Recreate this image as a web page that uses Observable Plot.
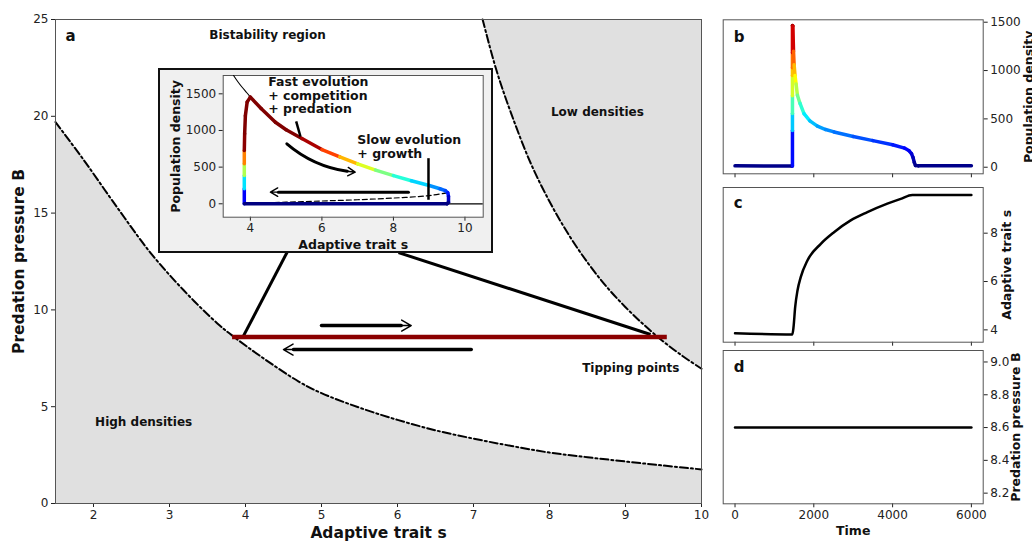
<!DOCTYPE html>
<html><head><meta charset="utf-8">
<script src="https://cdn.jsdelivr.net/npm/d3@7"></script>
<script src="https://cdn.jsdelivr.net/npm/@observablehq/plot@0.6"></script>
<style>
body{margin:0;background:#fff;}
#wrap{position:relative;width:1032px;height:541px;overflow:hidden;font-family:"DejaVu Sans",sans-serif;}
#box{position:absolute;left:158px;top:68px;width:335px;height:185px;box-sizing:border-box;border:2px solid #111;background:#f0f0f0;}
</style></head><body><div id="wrap"><div id="box"></div></div>
<script>
// ---------- data ----------
// panel a: boundaries of the bistability region
const lowerS = [1.5, 1.87, 2.31, 2.75, 3.19, 3.63, 3.85, 4.2, 4.7, 5.0, 5.5, 6.0, 6.5, 7.0, 7.5, 8.0, 8.5, 9.0, 9.5, 10.0];
const lowerB = [19.7, 17.75, 15.3, 12.95, 11.0, 9.3, 8.6, 7.6, 6.3, 5.7, 4.95, 4.32, 3.78, 3.35, 2.97, 2.63, 2.39, 2.17, 1.96, 1.76];
const upperS = [7.12, 7.3, 7.5, 7.75, 8.0, 8.25, 8.5, 8.75, 9.0, 9.25, 9.5, 9.75, 10.0];
const upperB = [25, 22.4, 20.1, 17.6, 15.6, 13.9, 12.45, 11.2, 10.14, 9.2, 8.36, 7.62, 6.96];
const tipB = 8.6;
const tipS = [3.83, 9.55];
const xTicksA = [2, 3, 4, 5, 6, 7, 8, 9, 10];
const yTicksA = [0, 5, 10, 15, 20, 25];
// connector lines from inset to tipping points (s, B)
const connS1 = [4.553, 6.013];
const connB1 = [13.02, 12.96];
const connS2 = [3.97, 9.33];
const connB2 = [8.63, 8.73];
// direction arrows in panel a
const arrowFrom = [5.0, 6.97];
const arrowTo = [6.18, 4.5];
const arrowB = [9.19, 7.95];
const notesA = ["Bistability region", "Low densities", "High densities", "Tipping points"];
const notesAS = [4.29, 8.63, 2.66, 9.07];
const notesAB = [24.17, 20.2, 4.18, 6.97];

// inset: trajectory in (s, N)
const insetS = [3.83, 3.83, 3.83, 3.83, 3.83, 3.84, 3.86, 3.91, 4.0, 4.3, 4.7, 5.0, 5.44, 6.0, 6.5, 7.0, 7.5, 8.0, 8.5, 9.0, 9.3, 9.45, 9.52, 9.54, 9.54, 9.5, 3.83];
const insetN = [0, 205, 386, 545, 727, 955, 1200, 1388, 1455, 1300, 1113, 1010, 890, 740, 640, 545, 460, 385, 315, 250, 205, 180, 150, 100, 20, 0, 0];
const eqS = [3.53, 3.65, 3.77, 3.9, 4.0];
const eqN = [1750, 1665, 1590, 1515, 1455];
const unstS = [4.0, 5.0, 6.0, 7.0, 8.0, 9.0, 9.49];
const unstN = [5, 22, 38, 55, 78, 112, 150];
const xTicksIn = [4, 6, 8, 10];
const yTicksIn = [0, 500, 1000, 1500];

// panels b, c, d: time series
const bT = [0, 1440, 1458, 1458, 1458, 1458, 1458, 1458, 1458, 1458, 1468, 1485, 1500, 1523, 1550, 1584, 1650, 1751, 1900, 2091, 2300, 2513, 3000, 3500, 4000, 4300, 4420, 4480, 4520, 4550, 4580, 4650, 6000];
const bN = [14, 12, 12, 380, 555, 740, 950, 1030, 1185, 1465, 1462, 1200, 1060, 948, 860, 745, 660, 555, 480, 425, 390, 365, 318, 275, 232, 198, 170, 140, 100, 50, 18, 14, 14];
const cT = [0, 1455, 1485, 1527, 1586, 1668, 1838, 2178, 2513, 2936, 3360, 3867, 4206, 4500, 6000];
const cS = [3.86, 3.81, 4.11, 4.94, 5.63, 6.18, 6.87, 7.56, 8.04, 8.53, 8.87, 9.22, 9.42, 9.58, 9.58];
const dT = [0, 6000];
const dB = [8.6, 8.6];
const timeTicks = [0, 2000, 4000, 6000];

// jet colormap
const jetStops = [0, 0.125, 0.375, 0.625, 0.875, 1];
const jetColors = ["#000080", "#0000ff", "#00ffff", "#ffff00", "#ff0000", "#800000"];

// ---------- helpers ----------
const FONT = "'DejaVu Sans', sans-serif";
const wrap = document.getElementById("wrap");
function place(el, left, top) {
  el.style.position = "absolute";
  el.style.left = left + "px";
  el.style.top = top + "px";
  el.style.background = "transparent";
  el.style.maxWidth = "none";
  wrap.appendChild(el);
}
function segs(xs, ys) {
  const out = [];
  for (let i = 0; i < xs.length - 1; i++) out.push({x1: xs[i], y1: ys[i], x2: xs[i + 1], y2: ys[i + 1], v: (ys[i] + ys[i + 1]) / 2});
  return out;
}
const pts = (xs, ys) => xs.map((x, i) => ({x, y: ys[i]}));
const baseStyle = {fontFamily: FONT, fontSize: "12px", color: "#222", background: "transparent", overflow: "visible"};
const bold = {fontWeight: "bold", fill: "#111"};
const fmtInt = d3.format("d");

// ---------- panel a ----------
const lower = pts(lowerS, lowerB);
const upper = pts(upperS, upperB);
const conns = connS1.map((s, i) => ({x1: s, y1: connB1[i], x2: connS2[i], y2: connB2[i]}));
const arrowsA = arrowFrom.map((s, i) => ({x1: s, x2: arrowTo[i], y: arrowB[i]}));
const notesAData = notesA.map((t, i) => ({t, x: notesAS[i], y: notesAB[i]}));

const mainPlot = Plot.plot({
  width: 720, height: 541,
  marginLeft: 55, marginRight: 19, marginTop: 19, marginBottom: 38,
  x: {domain: [1.5, 10]},
  y: {domain: [0, 25]},
  style: baseStyle,
  marks: [
    Plot.areaY(lower, {x: "x", y1: 0, y2: "y", fill: "#e0e0e0", curve: "catmull-rom"}),
    Plot.areaY(upper, {x: "x", y1: "y", y2: 25, fill: "#e0e0e0", curve: "catmull-rom"}),
    Plot.line(lower, {x: "x", y: "y", stroke: "#000", strokeWidth: 2, strokeDasharray: "8,3,2,3", curve: "catmull-rom"}),
    Plot.line(upper, {x: "x", y: "y", stroke: "#000", strokeWidth: 2, strokeDasharray: "8,3,2,3", curve: "catmull-rom"}),
    Plot.axisX({ticks: xTicksA, tickSize: 4, tickPadding: 3, label: null}),
    Plot.axisY({ticks: yTicksA, tickSize: 4, tickPadding: 3, label: null}),
    Plot.frame({stroke: "#555"}),
    Plot.link(conns, {x1: "x1", y1: "y1", x2: "x2", y2: "y2", stroke: "#000", strokeWidth: 3}),
    Plot.ruleY([tipB], {x1: tipS[0], x2: tipS[1], stroke: "#8b0000", strokeWidth: 4.5}),
    Plot.arrow(arrowsA, {x1: "x1", x2: "x2", y1: "y", y2: "y", stroke: "#000", strokeWidth: 3.5, headLength: 0, insetEnd: 10}),
    Plot.arrow(arrowsA, {x1: "x1", x2: "x2", y1: "y", y2: "y", stroke: "#000", strokeWidth: 1.5, headLength: 11}),
    Plot.text(notesAData, {x: "x", y: "y", text: "t", fontSize: 12, ...bold}),
    Plot.text(["a"], {frameAnchor: "top-left", dx: 10, dy: 17, textAnchor: "start", lineAnchor: "middle", fontSize: 15, ...bold}),
    Plot.text(["Predation pressure B"], {frameAnchor: "left", textAnchor: "middle", lineAnchor: "middle", rotate: -90, dx: -36, fontSize: 15.5, ...bold}),
    Plot.text(["Adaptive trait s"], {frameAnchor: "bottom", textAnchor: "middle", lineAnchor: "middle", dy: 30, fontSize: 15.5, ...bold})
  ]
});
place(mainPlot, 0, 0);
wrap.appendChild(document.getElementById("box"));

// ---------- inset ----------
const insetMax = 850;
const insetPlot = Plot.plot({
  width: 334, height: 184,
  marginLeft: 64.7, marginTop: 7, marginRight: 9.3, marginBottom: 35.3,
  x: {domain: [3.24, 10.51]},
  y: {domain: [-183, 1750]},
  color: {type: "linear", domain: jetStops.map(v => v * insetMax), range: jetColors, interpolate: "rgb", clamp: true},
  style: baseStyle,
  marks: [
    Plot.frame({fill: "white"}),
    Plot.axisX({ticks: xTicksIn, tickSize: 4, tickPadding: 2, label: null}),
    Plot.axisY({ticks: yTicksIn, tickFormat: fmtInt, tickSize: 4, tickPadding: 3, label: null}),
    Plot.frame({stroke: "#555"}),
    Plot.line(pts(eqS, eqN), {x: "x", y: "y", stroke: "#000", strokeWidth: 1.1, curve: "catmull-rom"}),
    Plot.ruleY([0], {x1: tipS[0], x2: 10.51, stroke: "#000", strokeWidth: 1.2}),
    Plot.line(pts(unstS, unstN), {x: "x", y: "y", stroke: "#000", strokeWidth: 1.2, strokeDasharray: "5,3", curve: "catmull-rom"}),
    Plot.link(segs(insetS, insetN), {x1: "x1", y1: "y1", x2: "x2", y2: "y2", stroke: "v", strokeWidth: 3.5, strokeLinecap: "round"}),
    // annotations
    Plot.link([{x1: 5.28, y1: 1123, x2: 5.40, y2: 918}], {x1: "x1", y1: "y1", x2: "x2", y2: "y2", stroke: "#000", strokeWidth: 2.5}),
    Plot.link([{x1: 8.98, y1: 622, x2: 8.98, y2: 55}], {x1: "x1", y1: "y1", x2: "x2", y2: "y2", stroke: "#000", strokeWidth: 2.5}),
    Plot.arrow([{x1: 8.42, x2: 4.56, y: 159}], {x1: "x1", x2: "x2", y1: "y", y2: "y", stroke: "#000", strokeWidth: 3, headLength: 0, insetEnd: 8}),
    Plot.arrow([{x1: 8.42, x2: 4.56, y: 159}], {x1: "x1", x2: "x2", y1: "y", y2: "y", stroke: "#000", strokeWidth: 1.4, headLength: 9}),
    Plot.arrow([{x1: 5.02, y1: 818, x2: 6.93, y2: 431}], {x1: "x1", y1: "y1", x2: "x2", y2: "y2", bend: -18, stroke: "#000", strokeWidth: 3, headLength: 0, insetEnd: 8}),
    Plot.arrow([{x1: 5.02, y1: 818, x2: 6.93, y2: 431}], {x1: "x1", y1: "y1", x2: "x2", y2: "y2", bend: -18, stroke: "#000", strokeWidth: 1.4, headLength: 9}),
    Plot.text([{t: "Fast evolution\n+ competition\n+ predation", x: 4.5, y: 1737}], {x: "x", y: "y", text: "t", textAnchor: "start", lineAnchor: "top", lineHeight: 1.08, fontSize: 12.5, ...bold}),
    Plot.text([{t: "Slow evolution\n+ growth", x: 6.99, y: 959}], {x: "x", y: "y", text: "t", textAnchor: "start", lineAnchor: "top", lineHeight: 1.15, fontSize: 12.5, ...bold}),
    Plot.text(["Population density"], {frameAnchor: "left", textAnchor: "middle", lineAnchor: "middle", rotate: -90, dx: -47.7, fontSize: 12.5, ...bold}),
    Plot.text(["Adaptive trait s"], {frameAnchor: "bottom", textAnchor: "middle", lineAnchor: "middle", dy: 27.6, fontSize: 12.5, ...bold})
  ]
});
place(insetPlot, 158, 68);

// ---------- panel b ----------
const bPlot = Plot.plot({
  width: 332, height: 180,
  marginLeft: 22.7, marginRight: 49.3, marginTop: 19.3, marginBottom: 6.7,
  x: {domain: [-300, 6300]},
  y: {domain: [-68, 1525]},
  color: {type: "linear", domain: jetStops.map(v => v * 1450), range: jetColors, interpolate: "rgb", clamp: true},
  style: baseStyle,
  marks: [
    Plot.axisX({ticks: timeTicks, tickSize: 4, tickFormat: () => "", label: null}),
    Plot.axisY({anchor: "right", ticks: [0, 500, 1000, 1500], tickFormat: fmtInt, tickSize: 4, tickPadding: 3, label: null}),
    Plot.frame({stroke: "#555"}),
    Plot.link(segs(bT, bN), {x1: "x1", y1: "y1", x2: "x2", y2: "y2", stroke: "v", strokeWidth: 3.5, strokeLinecap: "round"}),
    Plot.text(["b"], {frameAnchor: "top-left", dx: 10.5, dy: 17, textAnchor: "start", lineAnchor: "middle", fontSize: 15, ...bold}),
    Plot.text(["Population density"], {frameAnchor: "right", textAnchor: "middle", lineAnchor: "middle", rotate: -90, dx: 45.3, fontSize: 12.5, ...bold})
  ]
});
place(bPlot, 700, 0);

// ---------- panel c ----------
const cPlot = Plot.plot({
  width: 332, height: 166,
  marginLeft: 22.7, marginRight: 49.3, marginTop: 7, marginBottom: 4.3,
  x: {domain: [-300, 6300]},
  y: {domain: [3.49, 9.89]},
  style: baseStyle,
  marks: [
    Plot.axisX({ticks: timeTicks, tickSize: 4, tickFormat: () => "", label: null}),
    Plot.axisY({anchor: "right", ticks: [4, 6, 8], tickFormat: fmtInt, tickSize: 4, tickPadding: 3, label: null}),
    Plot.frame({stroke: "#555"}),
    Plot.line(pts(cT, cS), {x: "x", y: "y", stroke: "#000", strokeWidth: 2.5, curve: "monotone-x"}),
    Plot.text(["c"], {frameAnchor: "top-left", dx: 10.5, dy: 15.5, textAnchor: "start", lineAnchor: "middle", fontSize: 15, ...bold}),
    Plot.text(["Adaptive trait s"], {frameAnchor: "right", textAnchor: "middle", lineAnchor: "middle", rotate: -90, dx: 24, fontSize: 12.5, ...bold})
  ]
});
place(cPlot, 700, 180);

// ---------- panel d ----------
const dPlot = Plot.plot({
  width: 332, height: 195,
  marginLeft: 22.7, marginRight: 49.3, marginTop: 4, marginBottom: 37.7,
  x: {domain: [-300, 6300]},
  y: {domain: [8.135, 9.07]},
  style: baseStyle,
  marks: [
    Plot.axisX({ticks: timeTicks, tickFormat: fmtInt, tickSize: 4, tickPadding: 3, label: null}),
    Plot.axisY({anchor: "right", ticks: [8.2, 8.4, 8.6, 8.8, 9.0], tickFormat: d3.format(".1f"), tickSize: 4, tickPadding: 3, label: null}),
    Plot.frame({stroke: "#555"}),
    Plot.line(pts(dT, dB), {x: "x", y: "y", stroke: "#000", strokeWidth: 2.5}),
    Plot.text(["d"], {frameAnchor: "top-left", dx: 10.5, dy: 17, textAnchor: "start", lineAnchor: "middle", fontSize: 15, ...bold}),
    Plot.text(["Predation pressure B"], {frameAnchor: "right", textAnchor: "middle", lineAnchor: "middle", rotate: -90, dx: 32.3, fontSize: 12.5, ...bold}),
    Plot.text(["Time"], {frameAnchor: "bottom", textAnchor: "middle", lineAnchor: "middle", dy: 27, fontSize: 12.5, ...bold})
  ]
});
place(dPlot, 700, 346);
</script>
</body></html>
